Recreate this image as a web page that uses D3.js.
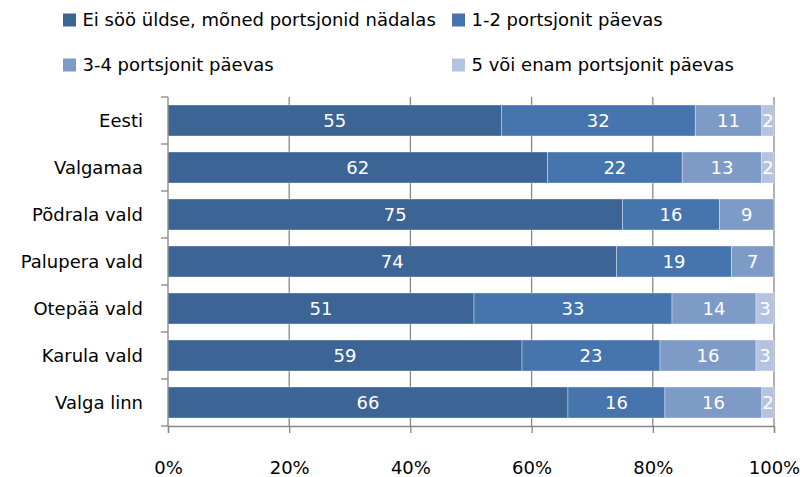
<!DOCTYPE html>
<html>
<head>
<meta charset="utf-8">
<script src="https://cdn.jsdelivr.net/npm/d3@7"></script>
<style>
  body { margin: 0; background: #fff; }
  text { font-family: "DejaVu Sans", sans-serif; font-size: 18px; }
</style>
</head>
<body>
<svg width="804" height="477"></svg>
<script>
const categories = ["Eesti", "Valgamaa", "Põdrala vald", "Palupera vald", "Otepää vald", "Karula vald", "Valga linn"]
const seriesNames = ["Ei söö üldse, mõned portsjonid nädalas", "1-2 portsjonit päevas", "3-4 portsjonit päevas", "5 või enam portsjonit päevas"]
const s1 = [55, 62, 75, 74, 51, 59, 66]
const s2 = [32, 22, 16, 19, 33, 23, 16]
const s3 = [11, 13, 9, 7, 14, 16, 16]
const s4 = [2, 2, 0, 0, 3, 3, 2]
const tickValues = [0, 0.2, 0.4, 0.6, 0.8, 1]
const colors = ["#3C6494", "#4674AD", "#7E9BC7", "#B3C3E0"]

const margin = { top: 97, left: 168, right: 30, bottom: 51 }
const width = 774 - margin.left
const height = 426 - margin.top

const svg = d3.select('svg')
const chart = svg.append('g')
  .attr('transform', `translate(${margin.left}, ${margin.top})`)

// one row per category, normalised to 100%
const rows = categories.map((c, i) => {
  const vals = [s1[i], s2[i], s3[i], s4[i]]
  const total = d3.sum(vals)
  const row = { cat: c, total }
  vals.forEach((v, k) => row["k" + k] = v / total)
  vals.forEach((v, k) => row["v" + k] = v)
  return row
})
const keys = ["k0", "k1", "k2", "k3"]
const stacked = d3.stack().keys(keys)(rows)

const xScale = d3.scaleLinear().domain([0, 1]).range([0, width])
const yScale = d3.scaleBand().domain(categories).range([0, height]).paddingInner(0.34).paddingOuter(0.17)

// gridlines
chart.append('g')
  .selectAll('line')
  .data(tickValues.slice(1))
  .enter()
  .append('line')
  .attr('x1', d => xScale(d)).attr('x2', d => xScale(d))
  .attr('y1', 0).attr('y2', height)
  .attr('stroke', '#868686').attr('stroke-width', 1.3)

// bars
const layer = chart.selectAll('g.layer')
  .data(stacked)
  .enter()
  .append('g')
  .attr('class', 'layer')
  .attr('fill', (d, i) => colors[i])

layer.selectAll('rect')
  .data(d => d.filter(p => p[1] - p[0] > 0))
  .enter()
  .append('rect')
  .attr('x', d => xScale(d[0]))
  .attr('y', d => yScale(d.data.cat))
  .attr('width', d => xScale(d[1]) - xScale(d[0]))
  .attr('height', yScale.bandwidth())
  .attr('stroke', '#fff').attr('stroke-width', 0.6).attr('stroke-opacity', 0.6)

// value labels
stacked.forEach((s, k) => {
  chart.append('g')
    .selectAll('text')
    .data(s.filter(p => p[1] - p[0] > 0))
    .enter()
    .append('text')
    .attr('x', d => xScale((d[0] + d[1]) / 2))
    .attr('y', d => yScale(d.data.cat) + yScale.bandwidth() / 2)
    .attr('dy', '0.36em')
    .attr('text-anchor', 'middle')
    .attr('fill', '#fff')
    .text(d => d.data["v" + k])
})

// y axis
const yAxis = chart.append('g')
yAxis.append('line')
  .attr('x1', 0).attr('x2', 0).attr('y1', 0).attr('y2', height)
  .attr('stroke', '#868686').attr('stroke-width', 1.3)
yAxis.selectAll('line.tick')
  .data(d3.range(categories.length + 1))
  .enter()
  .append('line')
  .attr('class', 'tick')
  .attr('x1', -7).attr('x2', 0)
  .attr('y1', i => i * height / categories.length)
  .attr('y2', i => i * height / categories.length)
  .attr('stroke', '#868686').attr('stroke-width', 1.3)
yAxis.selectAll('text')
  .data(categories)
  .enter()
  .append('text')
  .attr('x', -25)
  .attr('y', d => yScale(d) + yScale.bandwidth() / 2)
  .attr('dy', '0.36em')
  .attr('text-anchor', 'end')
  .attr('fill', '#000')
  .text(d => d)

// x axis
const xAxis = chart.append('g')
  .attr('transform', `translate(0, ${height})`)
  .call(d3.axisBottom(xScale).tickValues(tickValues).tickFormat(d3.format('.0%')).tickSize(7).tickPadding(28))
xAxis.select('.domain').attr('stroke', '#868686').attr('stroke-width', 1.3)
xAxis.selectAll('.tick line').attr('stroke', '#868686').attr('stroke-width', 1.3)
xAxis.selectAll('.tick text')
  .attr('fill', '#000')
  .style('font-size', '18px')
  .style('font-family', '"DejaVu Sans", sans-serif')

// legend
const legendPos = [[63, 20], [452, 20], [63, 65], [452, 65]]
const legend = svg.append('g')
  .selectAll('g')
  .data(seriesNames)
  .enter()
  .append('g')
  .attr('transform', (d, i) => `translate(${legendPos[i][0]}, ${legendPos[i][1]})`)
legend.append('rect')
  .attr('x', 0).attr('y', -6.5)
  .attr('width', 13).attr('height', 13)
  .attr('fill', (d, i) => colors[i])
legend.append('text')
  .attr('x', 19.5).attr('dy', '0.36em')
  .attr('fill', '#000')
  .text(d => d)
</script>
</body>
</html>
